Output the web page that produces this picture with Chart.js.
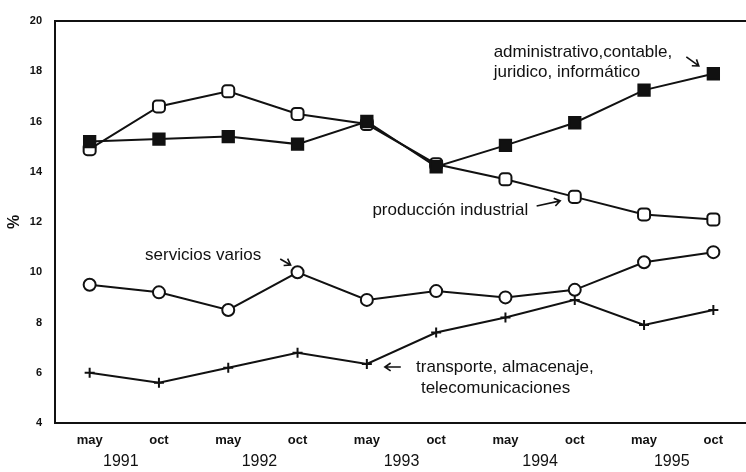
<!DOCTYPE html>
<html>
<head>
<meta charset="utf-8">
<script src="https://cdn.jsdelivr.net/npm/chart.js@4/dist/chart.umd.min.js"></script>
<style>
  html, body { margin: 0; padding: 0; background: #fff; overflow: hidden; }
  #wrap { width: 758px; height: 472px; position: relative; }
</style>
</head>
<body>
<div id="wrap"><canvas id="c"></canvas></div>
<script>
/* Employment share by sector, % — may/oct surveys 1991-1995 */
const months = ['may', 'oct', 'may', 'oct', 'may', 'oct', 'may', 'oct', 'may', 'oct'];
const years = ['1991', '1992', '1993', '1994', '1995'];
const yearPos = [0.45, 2.45, 4.5, 6.5, 8.4];   // where the year sits between may/oct

const administrativo = [15.2, 15.3, 15.4, 15.1, 16.0, 14.2, 15.05, 15.95, 17.25, 17.9];
const produccion     = [14.9, 16.6, 17.2, 16.3, 15.9, 14.3, 13.7, 13.0, 12.3, 12.1];
const servicios      = [9.5, 9.2, 8.5, 10.0, 8.9, 9.25, 9.0, 9.3, 10.4, 10.8];
const transporte     = [6.0, 5.6, 6.2, 6.8, 6.35, 7.6, 8.2, 8.9, 7.9, 8.5];

/* series labels placed in data units (x = category index, y = %) */
const notes = [
  { text: 'administrativo,contable,', x: 5.83, y: 18.77 },
  { text: 'juridico, informático', x: 5.83, y: 17.97 },
  { text: 'producción industrial', x: 4.08, y: 12.48 },
  { text: 'servicios varios', x: 0.80, y: 10.69 },
  { text: 'transporte, almacenaje,', x: 4.71, y: 6.23 },
  { text: 'telecomunicaciones', x: 4.78, y: 5.39 }
];
const arrows = [
  { from: [8.61, 18.57], to: [8.79, 18.21] },
  { from: [6.45, 12.64], to: [6.79, 12.84] },
  { from: [2.75, 10.53], to: [2.90, 10.29] },
  { from: [4.49, 6.23], to: [4.26, 6.23] }
];

const INK = '#111';

const annotate = {
  id: 'annotate',
  afterDatasetsDraw(chart) {
    const { ctx, chartArea: a, scales: { y } } = chart;
    const px = v => a.left + (v + 0.5) / 10 * (a.right - a.left);
    ctx.save();
    // top frame line
    ctx.strokeStyle = INK;
    ctx.lineWidth = 2;
    ctx.beginPath();
    ctx.moveTo(a.left, a.top);
    ctx.lineTo(a.right, a.top);
    ctx.stroke();

    ctx.fillStyle = INK;
    ctx.font = '17px "Liberation Sans", Arial, sans-serif';
    ctx.textBaseline = 'middle';
    ctx.textAlign = 'left';
    notes.forEach(n => ctx.fillText(n.text, px(n.x), y.getPixelForValue(n.y)));

    ctx.lineWidth = 1.6;
    arrows.forEach(ar => {
      const x0 = px(ar.from[0]), y0 = y.getPixelForValue(ar.from[1]);
      const x1 = px(ar.to[0]), y1 = y.getPixelForValue(ar.to[1]);
      const ang = Math.atan2(y1 - y0, x1 - x0);
      ctx.beginPath();
      ctx.moveTo(x0, y0);
      ctx.lineTo(x1, y1);
      ctx.moveTo(x1 - 7 * Math.cos(ang - 0.6), y1 - 7 * Math.sin(ang - 0.6));
      ctx.lineTo(x1, y1);
      ctx.lineTo(x1 - 7 * Math.cos(ang + 0.6), y1 - 7 * Math.sin(ang + 0.6));
      ctx.stroke();
    });
    ctx.restore();
  }
};

const line = (label, data, style, radius, fill) => ({
  label, data,
  borderColor: INK,
  borderWidth: 2,
  tension: 0,
  pointStyle: style,
  pointRadius: radius,
  pointHoverRadius: radius,
  pointBackgroundColor: fill,
  pointBorderColor: INK,
  pointBorderWidth: 2
});

new Chart(document.getElementById('c'), {
  type: 'line',
  data: {
    labels: months,
    datasets: [
      line('administrativo, contable, juridico, informático', administrativo, 'rect', 8, INK),
      line('producción industrial', produccion, 'rectRounded', 7, '#fff'),
      line('servicios varios', servicios, 'circle', 6, '#fff'),
      line('transporte, almacenaje, telecomunicaciones', transporte, 'cross', 5, INK)
    ]
  },
  options: {
    responsive: true,
    maintainAspectRatio: false,
    animation: false,
    layout: { padding: { top: 21, left: 0, right: 0, bottom: 0 } },
    plugins: { legend: { display: false }, tooltip: { enabled: false } },
    scales: {
      x: {
        type: 'category',
        offset: true,
        grid: { display: false, drawTicks: false },
        border: { display: true, color: INK, width: 2 },
        ticks: { color: INK, font: { family: 'Arial, sans-serif', size: 13, weight: 'bold' }, padding: 10, maxRotation: 0, autoSkip: false },
        afterFit: s => { s.height = 27; }
      },
      x2: {
        type: 'linear',
        position: 'bottom',
        min: -0.5,
        max: 9.5,
        grid: { display: false, drawTicks: false },
        border: { display: false },
        afterBuildTicks: s => { s.ticks = yearPos.map(v => ({ value: v })); },
        ticks: {
          color: INK, autoSkip: false, maxRotation: 0, padding: 2,
          font: { family: 'Arial, sans-serif', size: 16 },
          callback: (v, i) => years[i]
        },
        afterFit: s => { s.height = 22; }
      },
      y: {
        min: 4,
        max: 20,
        grid: { display: false, drawTicks: false },
        border: { display: true, color: INK, width: 2 },
        ticks: { stepSize: 2, color: INK, padding: 13, font: { family: 'Arial, sans-serif', size: 11, weight: 'bold' } },
        title: { display: true, text: '%', color: INK, padding: 0, font: { family: 'Arial, sans-serif', size: 16, weight: 'bold', lineHeight: '30px' } },
        afterFit: s => { s.width = 55; }
      }
    }
  },
  plugins: [annotate]
});
</script>
</body>
</html>
